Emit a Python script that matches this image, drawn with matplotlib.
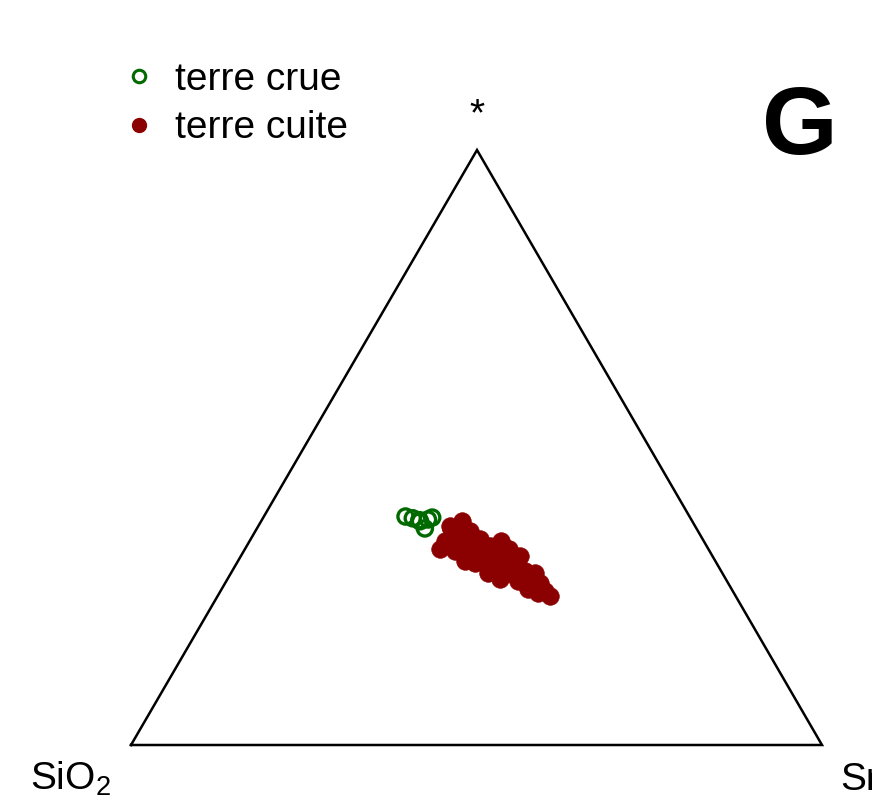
import matplotlib
matplotlib.use("Agg")
import matplotlib.pyplot as plt
from matplotlib.lines import Line2D
import numpy as np

plt.rcParams['font.family'] = ['Liberation Sans', 'DejaVu Sans']
plt.rcParams['mathtext.default'] = 'regular'

# Ternary compositions (fractions): SiO2 (left), * (top), Sr (right)
crue_sio2 = [0.411, 0.402, 0.394, 0.381, 0.393, 0.389, 0.374]
crue_star = [0.384, 0.381, 0.376, 0.379, 0.364, 0.373, 0.383]
crue_sr   = [0.205, 0.217, 0.230, 0.240, 0.243, 0.225, 0.245]

cuite_sio2 = [0.354, 0.333, 0.374, 0.351, 0.330, 0.389, 0.368, 0.345, 0.322, 0.336,
              0.313, 0.363, 0.334, 0.311, 0.294, 0.303, 0.288, 0.325, 0.293, 0.279,
              0.310, 0.284, 0.284, 0.302, 0.271, 0.272, 0.295, 0.272, 0.269, 0.283,
              0.349, 0.355, 0.339, 0.327]
cuite_star = [0.368, 0.376, 0.343, 0.351, 0.359, 0.329, 0.326, 0.334, 0.346, 0.323,
              0.334, 0.309, 0.309, 0.323, 0.343, 0.312, 0.329, 0.296, 0.301, 0.317,
              0.289, 0.292, 0.279, 0.276, 0.289, 0.272, 0.262, 0.259, 0.251, 0.256,
              0.306, 0.363, 0.289, 0.279]
cuite_sr   = [0.278, 0.291, 0.283, 0.298, 0.311, 0.282, 0.306, 0.321, 0.332, 0.341,
              0.353, 0.328, 0.357, 0.366, 0.363, 0.385, 0.383, 0.379, 0.406, 0.404,
              0.401, 0.424, 0.437, 0.422, 0.440, 0.456, 0.443, 0.469, 0.480, 0.461,
              0.345, 0.282, 0.372, 0.394]

labels = ["terre crue", "terre cuite"]
vertex_labels = ["SiO$_2$", "*", "Sr"]

# layout: triangle vertices in figure pixel space
VL = np.array([131.0, 745.0])
VR = np.array([822.0, 745.0])
VT = np.array([477.0, 150.0])

def to_xy(s, t, r):
    s = np.asarray(s); t = np.asarray(t); r = np.asarray(r)
    tot = s + t + r
    t = t / tot; r = r / tot
    p = VL[None, :] + r[:, None] * (VR - VL)[None, :] + t[:, None] * (VT - VL)[None, :]
    return p[:, 0], p[:, 1]

fig = plt.figure(figsize=(8.72, 8.10), dpi=100)
ax = fig.add_axes([0, 0, 1, 1])
ax.set_xlim(0, 872)
ax.set_ylim(810, 0)
ax.axis('off')

tri = np.array([VL, VR, VT, VL])
ax.plot(tri[:, 0], tri[:, 1], color='black', lw=1.8, solid_joinstyle='miter')

green = '#006a00'
red = '#8b0000'

x, y = to_xy(cuite_sio2, cuite_star, cuite_sr)
ax.scatter(x, y, s=160, color=red, edgecolors=red, linewidths=0.5, zorder=3)
x, y = to_xy(crue_sio2, crue_star, crue_sr)
ax.scatter(x, y, s=120, facecolors='none', edgecolors=green, linewidths=2.4, zorder=4)

fs = 28
ax.text(30, 790, vertex_labels[0], fontsize=fs, ha='left', va='baseline')
ax.text(477, 125, vertex_labels[1], fontsize=fs, ha='center', va='baseline')
ax.text(840, 790, vertex_labels[2], fontsize=fs, ha='left', va='baseline', clip_on=False)
ax.text(800, 154, "G", fontsize=70, fontweight='bold', ha='center', va='baseline')

handles = [Line2D([], [], ls='none', marker='o', ms=9, mfc='none', mec=green, mew=2.2),
           Line2D([], [], ls='none', marker='o', ms=10, mfc=red, mec=red)]
leg = ax.legend(handles, labels, loc='upper left', bbox_to_anchor=(0.1416, 0.924),
                frameon=False, fontsize=fs, handlelength=0.8, handletextpad=0.53,
                labelspacing=0.33, borderpad=0, borderaxespad=0)

fig.savefig("out.png", dpi=100)
